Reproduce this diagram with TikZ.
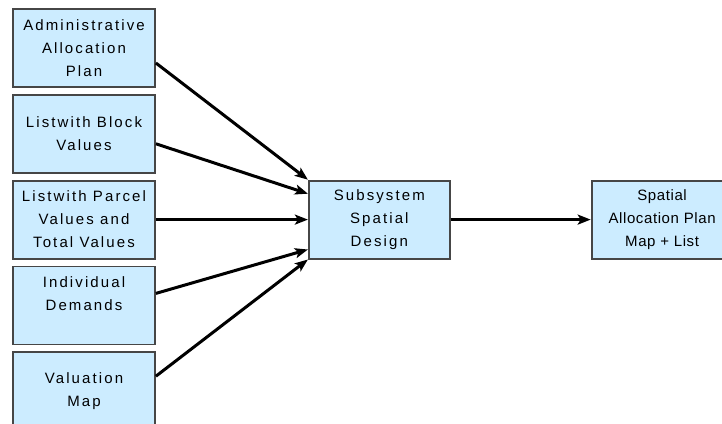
\documentclass[tikz,border=0pt]{standalone}
\usepackage{fontspec}
\setmainfont{Liberation Sans}[LetterSpace=14]
\usetikzlibrary{positioning,arrows.meta}
\definecolor{boxfill}{RGB}{204,236,255}
\definecolor{boxline}{RGB}{70,70,70}
\begin{document}
\begin{tikzpicture}[x=1pt,y=1pt]

    \tikzset{
      box/.style={
        draw=boxline,
        line width=1.8pt,
        fill=boxfill,
        minimum width=142pt,
        minimum height=78pt,
        inner sep=0pt,
        align=center,
        font=\fontsize{15}{23}\selectfont,
      },
      link/.style={
        line width=3pt,
        -{Stealth[length=13pt,width=10pt,inset=3pt]},
      },
    }
    \useasboundingbox (0,0) rectangle (722,-423);
    \node[box] (admin) at (84,-48) {Administrative\\Allocation\\Plan};
    \node[box, below=6pt of admin] (block) {Listwith Block\\Values};
    \node[box, below=6pt of block] (parcel) {Listwith Parcel\\Values and\\Total Values};
    \node[box, below=6pt of parcel] (demands) {Individual\\Demands\\\mbox{}};
    \node[box, below=6pt of demands] (valmap) {Valuation\\Map};
    \node[box, minimum width=141pt, right=152pt of parcel] (design) {Subsystem\\Spatial\\Design};
    \node[box, minimum width=141pt, right=140pt of design,
          font=\fontsize{15}{23}\selectfont\addfontfeatures{LetterSpace=4}] (plan) {Spatial\\Allocation Plan\\Map + List};
    % inputs into the subsystem
    \draw[link] ([yshift=-15pt]admin.east) -- (design.north west);
    \draw[link] ([yshift=-10pt]block.east) -- ([yshift=-14pt]design.north west);
    \draw[link] (parcel.east) -- (design.west);
    \draw[link] ([yshift=12pt]demands.east) -- ([yshift=10pt]design.south west);
    \draw[link] ([yshift=15pt]valmap.east) -- (design.south west);
    \draw[link] (design) -- (plan);

\end{tikzpicture}
\end{document}
